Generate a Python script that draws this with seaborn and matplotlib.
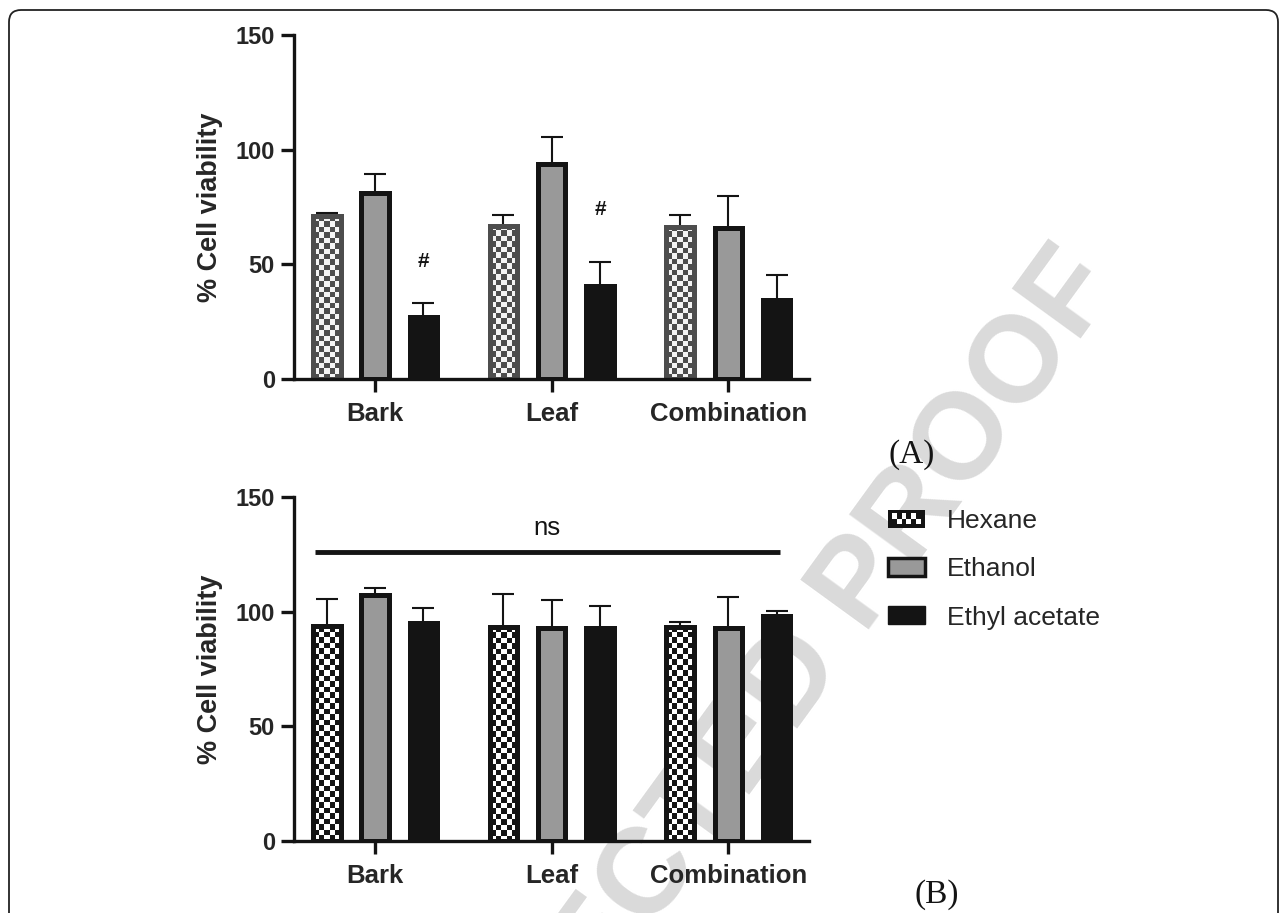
import numpy as np
import pandas as pd
import matplotlib
matplotlib.use("Agg")
import matplotlib.pyplot as plt
import seaborn as sns
from matplotlib.patches import Rectangle, Patch, FancyBboxPatch
from matplotlib.legend_handler import HandlerBase
from matplotlib.colors import ListedColormap
from matplotlib.transforms import IdentityTransform

parts = ["Bark", "Leaf", "Combination"]
solvents = ["Hexane", "Ethanol", "Ethyl acetate"]

# (A) cell viability, mean and upper SD
hexane_a = [70.9, 66.9, 66.4]
ethanol_a = [81.0, 93.8, 65.8]
ethyl_a = [27.2, 40.7, 34.6]
hexane_a_err = [1.7, 4.8, 5.2]
ethanol_a_err = [8.6, 11.9, 14.0]
ethyl_a_err = [5.8, 10.5, 10.8]
hash_parts = ["Bark", "Leaf"]
hash_y = [51.2, 73.7]

# (B) cell viability, mean and upper SD
hexane_b = [93.7, 93.1, 93.5]
ethanol_b = [107.1, 92.7, 92.7]
ethyl_b = [94.9, 92.7, 98.2]
hexane_b_err = [11.8, 14.8, 2.2]
ethanol_b_err = [3.3, 12.3, 13.5]
ethyl_b_err = [6.6, 9.7, 2.0]
ns_y = 125.8
ns_span = [-0.34, 2.29]

yticks = [0, 50, 100, 150]

DARK = "#141414"
GREY = "#999999"

sns.set_style("ticks")
plt.rcParams["font.family"] = ["Liberation Sans", "DejaVu Sans"]


def make_df(h, e, ea):
    rows = []
    for vals, s in zip([h, e, ea], solvents):
        for p, v in zip(parts, vals):
            rows.append({"part": p, "solvent": s, "viability": v})
    return pd.DataFrame(rows)


XLIM = (-0.459, 2.457)


def draw_panel(ax, df, errs, chk_dark, chk_light, hex_edge):
    sns.barplot(data=df, x="part", y="viability", hue="solvent", order=parts,
                hue_order=solvents,
                palette={"Hexane": "white", "Ethanol": GREY, "Ethyl acetate": DARK},
                saturation=1, width=0.82, gap=0.43, errorbar=None, legend=False,
                edgecolor=DARK, linewidth=3.6, ax=ax)
    ax.set_facecolor("none")
    ax.set_xlim(*XLIM)
    ax.set_ylim(0, 150)

    for cont, err in zip(ax.containers, errs):
        xs = [p.get_x() + p.get_width() / 2 for p in cont]
        ys = [p.get_height() for p in cont]
        ax.errorbar(xs, ys, yerr=[np.zeros(len(err)), err], fmt="none",
                    ecolor=DARK, elinewidth=1.5, capsize=8, capthick=1.5, zorder=0.8)

    # checkered hexane bars
    cmap = ListedColormap([chk_light, chk_dark])
    for p in ax.containers[0]:
        p.set_facecolor("none")
        p.set_edgecolor(hex_edge)
        x0, w, h = p.get_x(), p.get_width(), p.get_height()
        (px0, py0), (px1, py1) = ax.transData.transform([(x0, 0), (x0 + w, h)])
        ncol = 5
        nrow = max(1, int(round((py1 - py0) / 5.5)))
        grid = np.indices((nrow, ncol)).sum(axis=0) % 2
        img = ax.imshow(grid, cmap=cmap, extent=(x0, x0 + w, 0, h), aspect="auto",
                        interpolation="nearest", zorder=p.get_zorder() - 0.05)
        img.set_clip_path(p)

    ax.set_xlim(*XLIM)
    ax.set_ylim(0, 150)
    ax.set_yticks(yticks)
    sns.despine(ax=ax)
    for s in ["left", "bottom"]:
        ax.spines[s].set_linewidth(2.4)
        ax.spines[s].set_color(DARK)
    ax.tick_params(axis="both", width=2.4, length=9.4, color=DARK)
    ax.tick_params(axis="y", pad=4.3, labelsize=17)
    ax.tick_params(axis="x", pad=7, labelsize=18.5)
    for lab in ax.get_xticklabels() + ax.get_yticklabels():
        lab.set_fontweight("bold")
    ax.set_xlabel("")
    ax.set_ylabel("% Cell viability", fontsize=19.5, fontweight="bold", labelpad=9)


class CheckerHandler(HandlerBase):
    def create_artists(self, legend, orig_handle, xdescent, ydescent, width, height,
                       fontsize, trans):
        x0, y0 = -xdescent, -ydescent
        arts = [Rectangle((x0, y0), width, height, facecolor=DARK, edgecolor="none",
                          transform=trans)]
        b = 2.6
        ncol, nrow = 6, 2
        cw = (width - 2 * b) / ncol
        ch = (height - 2 * b) / nrow
        for i in range(ncol):
            for j in range(nrow):
                if (i + j) % 2 == 1:
                    arts.append(Rectangle((x0 + b + i * cw, y0 + b + j * ch), cw, ch,
                                          facecolor="white", edgecolor="none",
                                          transform=trans))
        return arts


W, H = 1287, 913
fig = plt.figure(figsize=(W / 100, H / 100), dpi=100)

# watermark behind everything
fig.text(729 / W, 1 - 768 / H, "CORRECTED PROOF", rotation=54, rotation_mode="anchor",
         ha="center", va="center", fontsize=88, fontweight="bold", color="#dadada",
         zorder=-5)

ax_a = fig.add_axes([294 / W, 1 - 379 / H, 515 / W, 344 / H])
ax_b = fig.add_axes([294 / W, 1 - 841 / H, 515 / W, 344 / H])

draw_panel(ax_a, make_df(hexane_a, ethanol_a, ethyl_a),
           [hexane_a_err, ethanol_a_err, ethyl_a_err],
           chk_dark="#4d4d4d", chk_light="#f4f4f4", hex_edge="#4d4d4d")
draw_panel(ax_b, make_df(hexane_b, ethanol_b, ethyl_b),
           [hexane_b_err, ethanol_b_err, ethyl_b_err],
           chk_dark=DARK, chk_light="white", hex_edge=DARK)

# '#' marks over ethyl acetate bars
ea_bars = ax_a.containers[2]
for part, yv in zip(hash_parts, hash_y):
    p = ea_bars[parts.index(part)]
    ax_a.text(p.get_x() + p.get_width() / 2, yv, "#", ha="center", va="center",
              fontsize=15, fontweight="bold", color=DARK)

# ns bracket
ax_b.plot(ns_span, [ns_y, ns_y], color=DARK, lw=3.5, solid_capstyle="butt")
ax_b.text(np.mean([0, 1.95]), 136.5, "ns", ha="center", va="center", fontsize=18.5,
          color=DARK)

# legend
hex_handle = Patch(facecolor=DARK)
handles = [hex_handle,
           Patch(facecolor=GREY, edgecolor=DARK, linewidth=2.5),
           Patch(facecolor=DARK, edgecolor=DARK)]
fig.legend(handles, solvents, loc="upper left", bbox_to_anchor=(888 / W, 1 - 509 / H),
           frameon=False, fontsize=19, handlelength=1.4, handleheight=0.68,
           handletextpad=0.85, labelspacing=0.92, borderpad=0, borderaxespad=0,
           handler_map={hex_handle: CheckerHandler()})

fig.text(912 / W, 1 - 455 / H, "(A)", fontsize=24, family="Liberation Serif",
         ha="center", va="center", color=DARK)
fig.text(937 / W, 1 - 895 / H, "(B)", fontsize=24, family="Liberation Serif",
         ha="center", va="center", color=DARK)

# rounded page frame
frame = FancyBboxPatch((9, -20), 1269, H - 10 + 20, boxstyle="round,pad=0,rounding_size=12",
                       transform=IdentityTransform(), fill=False, lw=1.3, edgecolor="#222222")
fig.patches.append(frame)

fig.savefig("out.png", dpi=100)
